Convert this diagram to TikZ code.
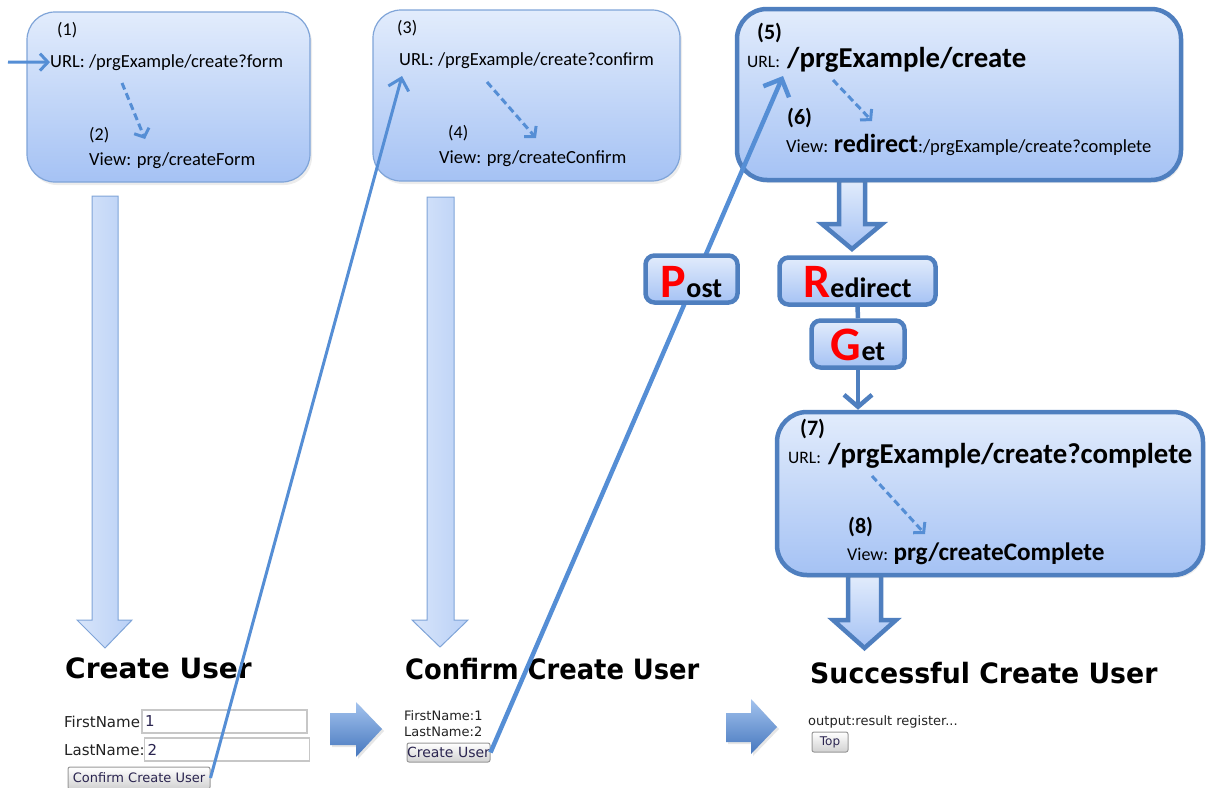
\documentclass[tikz,border=0pt]{standalone}
\usepackage{fontspec}
\setmainfont{Carlito}
\newfontfamily\webfont{DejaVu Sans}
\usetikzlibrary{arrows.meta,shadows}
\definecolor{bord}{HTML}{4F7FBF}
\definecolor{thinb}{HTML}{7FA4D8}
\definecolor{ln}{HTML}{558ED5}
\definecolor{ftop}{HTML}{E2ECFC}
\definecolor{fbot}{HTML}{A5C2F4}
\definecolor{aleft}{HTML}{D8E5FA}
\definecolor{aright}{HTML}{B9D0F6}
\definecolor{rtop}{HTML}{A3C3EE}
\definecolor{rbot}{HTML}{4677BE}
\definecolor{webtxt}{HTML}{222222}
\definecolor{btntxt}{HTML}{2B2550}
\newcommand\myfs[1]{\fontsize{#1}{#1}\selectfont}
\begin{document}
\begin{tikzpicture}[x=1pt,y=-1pt,
 txt/.style={inner sep=0pt, anchor=base west, text=black},
 thinbox/.style={draw=thinb, line width=1.2pt, rounded corners=28pt, top color=ftop, bottom color=fbot, drop shadow={opacity=0.15,shadow xshift=2pt,shadow yshift=-3pt}},
 thickbox/.style={draw=bord, line width=4.5pt, rounded corners=30pt, top color=ftop, bottom color=fbot, drop shadow={opacity=0.15,shadow xshift=2pt,shadow yshift=-3pt}},
 tagbox/.style={draw=bord, line width=4.5pt, rounded corners=9pt, top color=ftop, bottom color=fbot, inner sep=0pt},
 dasharrow/.style={draw=ln, line width=3pt, dash pattern=on 7pt off 4pt, -{Straight Barb[length=7pt,width=16pt]}},
 thinarrow/.style={draw=thinb, line width=1pt, left color=aleft, right color=aright},
 thickarrow/.style={draw=bord, line width=4.5pt, top color=ftop, bottom color=fbot},
 rightarrow/.style={draw=none, top color=rtop, bottom color=rbot, drop shadow={opacity=0.2,shadow xshift=2pt,shadow yshift=-2pt}},
 web/.style={inner sep=0pt, anchor=base west, text=webtxt, font=\webfont\myfs{15}},
 head/.style={inner sep=0pt, anchor=base west, text=black, font=\webfont\bfseries\myfs{28}},
 tbox/.style={draw=black!22, line width=1.2pt, fill=white, inner sep=0pt, text=btntxt, font=\webfont\myfs{15}},
 btn/.style={draw=black!40, line width=1pt, rounded corners=2pt, top color=white, bottom color=black!18, inner sep=0pt, text=btntxt, font=\webfont\myfs{13}}
]
\useasboundingbox (0,0) rectangle (1206,787);

% ---------- big down arrows
\path[thinarrow] (92,196) -- (118,196) -- (118,620) -- (132,620) -- (105,648) -- (77,620) -- (92,620) -- cycle;
\path[thinarrow] (427,197) -- (454,197) -- (454,620) -- (468,620) -- (440,647) -- (412,620) -- (427,620) -- cycle;
\path[thickarrow] (839,180) -- (865,180) -- (865,224) -- (882,224) -- (852,249) -- (822,224) -- (839,224) -- cycle;
\path[thickarrow] (848,575) -- (881,575) -- (881,620) -- (896,620) -- (864.5,648) -- (833,620) -- (848,620) -- cycle;

% ---------- box 1
\node[thinbox, minimum width=283pt, minimum height=170pt] (b1) at (168.5,97) {};
\node[txt, font=\myfs{18}] (n1) at (57,35) {(1)};
\node[txt, font=\myfs{18.5}] (url1) at (50,67) {URL: /prgExample/create?form};
\node[txt, font=\myfs{18}] (n2) at (89,140) {(2)};
\node[txt, font=\myfs{18.5}] (view1) at (89,165) {View: prg/createForm};
\coordinate (in1) at (8,62);
\coordinate (d1s) at (122,83);
\coordinate (d1e) at (145,139);
\draw[ln, line width=3pt, -{Straight Barb[length=8pt,width=17pt]}] (in1) -- (url1.west);
\draw[dasharrow] (d1s) -- (d1e);

% ---------- box 2
\node[thinbox, minimum width=307pt, minimum height=171pt] (b2) at (526.5,95.5) {};
\node[txt, font=\myfs{18}] (n3) at (397,33) {(3)};
\node[txt, font=\myfs{18.5}] (url2) at (399,65) {URL: /prgExample/create?confirm};
\node[txt, font=\myfs{18}] (n4) at (448,138) {(4)};
\node[txt, font=\myfs{18.5}] (view2) at (439,163) {View: prg/createConfirm};
\coordinate (d2s) at (487,82);
\coordinate (d2e) at (536,138);
\draw[dasharrow] (d2s) -- (d2e);

% ---------- box 3
\node[thickbox, minimum width=444pt, minimum height=171pt] (b3) at (959,94.5) {};
\node[txt, font=\bfseries\myfs{22}] (n5) at (757,39) {(5)};
\node[txt, font=\myfs{17.5}] (url3) at (747,67) {URL:};
\node[txt, font=\bfseries\myfs{28.8}] (path3) at (787,67) {/prgExample/create};
\node[txt, font=\bfseries\myfs{22}] (n6) at (787,124) {(6)};
\node[txt, font=\myfs{18.5}] (view3) at (786,152) {View: {\bfseries\myfs{26}redirect}:/prgExample/create?complete};
\coordinate (d3s) at (833,80);
\coordinate (d3e) at (872,121);
\draw[dasharrow] (d3s) -- (d3e);

% ---------- box 4
\node[thickbox, minimum width=426pt, minimum height=163pt] (b4) at (990,493.5) {};
\node[txt, font=\bfseries\myfs{22}] (n7) at (800,435) {(7)};
\node[txt, font=\myfs{17.5}] (url4) at (788,463) {URL:};
\node[txt, font=\bfseries\myfs{28.8}] (path4) at (828,463) {/prgExample/create?complete};
\node[txt, font=\bfseries\myfs{22}] (n8) at (848,533) {(8)};
\node[txt, font=\myfs{18}] (view4) at (847,560) {View: {\bfseries\myfs{25.2}prg/createComplete}};
\coordinate (d4s) at (872,476);
\coordinate (d4e) at (925,534);
\draw[dasharrow] (d4s) -- (d4e);

% ---------- Redirect / Get
\node[tagbox, minimum width=156pt, minimum height=47pt] (red) at (857.5,281) {};
\node[txt, anchor=base, font=\bfseries] (redt) at (857.5,297) {\textcolor{red}{\myfs{48}R}\myfs{28}edirect};
\node[tagbox, minimum width=93pt, minimum height=47pt] (get) at (858,344) {};
\node[txt, anchor=base, font=\bfseries] (gett) at (858,360) {\textcolor{red}{\myfs{48}G}\myfs{28}et};
\draw[bord, line width=4.5pt] (red.south) -- (get.north);
\draw[bord, line width=4.5pt, -{Straight Barb[length=12pt,width=28pt]}] (get.south) -- (get.south |- b4.north);

% ---------- web page 1
\node[head] (h1) at (65,678) {Create User};
\node[web] (fn1) at (64,727) {FirstName};
\node[tbox, minimum width=165pt, minimum height=23pt, text width=159pt, align=left] (tb1) at (224.5,721.5) {1};
\node[web] (ln1) at (64,755) {LastName:};
\node[tbox, minimum width=165pt, minimum height=23pt, text width=159pt, align=left] (tb2) at (227,749.5) {2};
\node[btn, minimum width=142pt, minimum height=22pt] (btn1) at (139,778) {Confirm Create User};
\path[rightarrow] (330,713) -- (356,713) -- (356,702) -- (382,729) -- (356,757) -- (356,745) -- (330,745) -- cycle;

% ---------- web page 2
\node[head] (h2) at (405,679) {\scalebox{0.92}[1]{Confirm Create User}};
\node[web, font=\webfont\myfs{13}] (fn2) at (404,720) {FirstName:1};
\node[web, font=\webfont\myfs{13}] (ln2) at (404,736) {LastName:2};
\node[btn, minimum width=83pt, minimum height=19pt, font=\webfont\myfs{14}] (btn2) at (448.5,752.5) {Create User};
\path[rightarrow] (726,713) -- (751,713) -- (751,699) -- (777,727) -- (751,754) -- (751,742) -- (726,742) -- cycle;

% ---------- web page 3
\node[head] (h3) at (810,683) {\scalebox{0.955}[1]{Successful Create User}};
\node[web, font=\webfont\myfs{13}] (out3) at (808,725) {output:result register...};
\node[btn, minimum width=36pt, minimum height=20pt, font=\webfont\myfs{12}] (btn3) at (830,742) {Top};

% ---------- long post lines
\coordinate (t1) at (402,76);
\coordinate (t2) at (783,76);
\draw[ln, line width=3pt, -{Straight Barb[length=11pt,width=21pt]}] (btn1.east) -- (t1);
\draw[ln, line width=4.5pt, -{Straight Barb[length=14pt,width=28pt]}] (btn2.east) -- (t2);

% ---------- Post tag (over line)
\node[tagbox, minimum width=92pt, minimum height=47pt] (post) at (691.5,279) {};
\node[txt, anchor=base, font=\bfseries] (postt) at (691.5,297) {\textcolor{red}{\myfs{48}P}\myfs{28}ost};
\end{tikzpicture}
\end{document}
